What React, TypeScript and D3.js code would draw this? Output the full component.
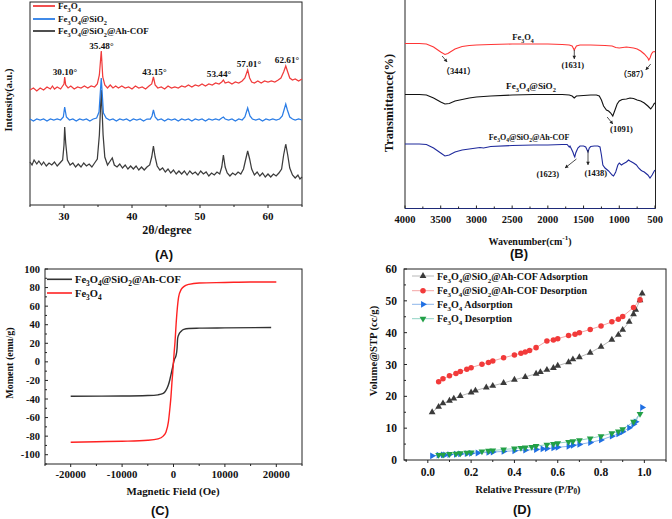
import React from 'react';
import * as d3 from 'd3';

const SERIF = '"Liberation Serif", "Times New Roman", "Noto Sans CJK SC", serif';
const SANS = '"Liberation Sans", Arial, sans-serif';

// ---------- Panel A: XRD (2θ, relative intensity) ----------
const xrdFe3O4: [number, number][] = [[25,115],[25.5,117],[26,114],[26.5,117],[27,115],[27.5,118],[28,116],[28.3,119],[28.6,116],[29,118],[29.5,116],[29.8,119],[30.0,121],[30.1,128],[30.25,120],[30.6,117],[31,119],[31.5,116],[32,118],[32.5,117],[33,119],[33.5,117],[34,119],[34.5,118],[34.9,121],[35.2,130],[35.48,154],[35.7,128],[36,120],[36.4,117],[36.8,120],[37.2,117],[37.6,119],[38,117],[38.5,119],[39,117],[39.5,118],[40,116],[40.5,119],[41,117],[41.5,118],[42,116],[42.5,119],[42.9,121],[43.15,128],[43.4,120],[43.8,117],[44.3,118],[44.8,116],[45.3,119],[45.8,117],[46.3,118],[46.8,117],[47.3,119],[47.8,118],[48.3,120],[48.8,118],[49.3,120],[49.8,119],[50.3,121],[50.8,119],[51.3,121],[51.8,120],[52.3,122],[52.8,121],[53.2,123],[53.44,125],[53.7,122],[54.2,123],[54.7,121],[55.2,123],[55.7,122],[56.2,124],[56.6,127],[57.01,135],[57.3,127],[57.6,123],[58,122],[58.5,124],[59,122],[59.5,124],[60,123],[60.5,124],[61,123],[61.5,125],[61.9,127],[62.3,133],[62.61,139],[62.9,133],[63.2,127],[63.6,125],[64,126],[64.5,124],[65,126]];
const xrdSiO2: [number, number][] = [[25,86],[25.5,84],[26,86],[26.5,85],[27,86],[27.5,84],[28,86],[28.5,85],[29,86],[29.5,85],[29.9,88],[30.1,98],[30.35,88],[30.8,85],[31.3,86],[31.8,84],[32.3,86],[32.8,85],[33.3,86],[33.8,84],[34.3,86],[34.8,87],[35.15,93],[35.48,127],[35.8,92],[36.2,87],[36.7,85],[37.2,86],[37.7,84],[38.2,86],[38.7,85],[39.2,86],[39.7,84],[40.2,86],[40.7,85],[41.2,86],[41.7,84],[42.2,86],[42.7,86],[42.95,89],[43.15,95],[43.4,88],[43.8,85],[44.3,86],[44.8,84],[45.3,86],[45.8,85],[46.3,86],[46.8,84],[47.3,86],[47.8,85],[48.3,86],[48.8,84],[49.3,86],[49.8,85],[50.3,86],[50.8,84],[51.3,86],[51.8,85],[52.3,86],[52.8,85],[53.2,87],[53.44,88],[53.7,86],[54.2,85],[54.7,86],[55.2,84],[55.7,86],[56.2,85],[56.6,88],[57.01,97],[57.35,89],[57.7,86],[58.2,85],[58.7,86],[59.2,84],[59.7,86],[60.2,85],[60.7,86],[61.2,85],[61.7,86],[62.1,89],[62.4,96],[62.61,101],[62.85,95],[63.2,88],[63.6,86],[64,85],[64.5,86],[65,85]];
const xrdCOF: [number, number][] = [[25,43],[25.3,40],[25.6,45],[26,41],[26.3,44],[26.7,40],[27,43],[27.4,39],[27.8,42],[28.2,40],[28.6,43],[29,39],[29.4,42],[29.8,45],[30.0,60],[30.1,78],[30.25,62],[30.5,45],[30.9,40],[31.3,42],[31.7,38],[32.1,41],[32.5,38],[32.9,42],[33.3,39],[33.7,41],[34.1,38],[34.5,42],[34.9,46],[35.2,70],[35.48,115],[35.75,70],[36.0,48],[36.4,40],[36.8,44],[37.1,47],[37.4,40],[37.8,38],[38.2,41],[38.6,37],[39,40],[39.4,36],[39.8,39],[40.2,36],[40.6,39],[41,35],[41.4,38],[41.8,35],[42.2,38],[42.6,40],[42.9,48],[43.15,59],[43.4,48],[43.7,39],[44.1,35],[44.5,37],[44.9,33],[45.3,36],[45.7,32],[46.1,35],[46.5,31],[46.9,34],[47.3,31],[47.7,34],[48.1,30],[48.5,34],[48.9,31],[49.3,33],[49.7,30],[50.1,34],[50.5,31],[50.9,33],[51.3,29],[51.7,32],[52.1,30],[52.5,33],[52.9,31],[53.2,38],[53.44,50],[53.7,38],[54,32],[54.4,29],[54.8,32],[55.2,30],[55.6,33],[56,31],[56.4,36],[56.7,45],[57.01,54],[57.3,46],[57.6,36],[58,30],[58.4,33],[58.8,29],[59.2,32],[59.6,28],[60,31],[60.4,28],[60.8,31],[61.2,29],[61.6,32],[62,36],[62.3,50],[62.61,61],[62.9,50],[63.2,37],[63.6,30],[64,27],[64.4,30],[64.7,26],[65,28]];
const xrdTicksMajor = [30, 40, 50, 60];
const xrdTicksMinor = [25, 35, 45, 55, 65];
const xrdPeaks: [string, number, number][] = [["30.10°", 30.1, 133], ["35.48°", 35.48, 159], ["43.15°", 43.15, 133], ["53.44°", 53.44, 131], ["57.01°", 57.01, 141], ["62.61°", 62.61, 145]];
const xrdPeakXLabel = [30.13, 35.5, 43.3, 52.8, 57.2, 62.8];

// ---------- Panel B: FTIR (wavenumber, transmittance a.u.) ----------
const ftirFe3O4: [number, number][] = [[4000,164.5],[3800,164.5],[3700,164],[3600,161],[3500,156],[3441,153.5],[3400,154.5],[3300,159],[3200,161.5],[3100,162.5],[3000,163],[2800,163.5],[2500,164],[2200,164],[2000,164],[1800,163.5],[1700,163],[1660,162],[1631,158],[1600,162],[1550,163],[1400,163],[1200,162.5],[1100,162],[1050,160.5],[1000,160],[950,160.5],[900,161],[800,160],[750,159],[700,157],[650,154],[600,150],[587,148],[570,150],[550,154],[530,156],[510,156.5],[500,156]];
const ftirSiO2: [number, number][] = [[4000,113.5],[3800,113.5],[3700,113],[3600,110],[3500,106],[3441,104],[3380,104.5],[3300,107],[3200,108.5],[3100,110],[3000,111],[2800,112],[2500,113],[2200,113.5],[2000,113.5],[1800,113.5],[1700,113],[1660,112],[1631,110],[1600,112],[1500,112.5],[1400,113],[1320,113],[1280,112],[1250,108],[1220,102],[1180,98],[1150,97],[1120,95],[1091,92],[1060,98],[1030,104],[1000,107],[960,108.5],[900,109],[850,110],[800,109.5],[750,108],[700,107],[650,105],[600,102],[560,99],[530,102],[510,104.5],[500,105]];
const ftirCOF: [number, number][] = [[4000,64],[3800,64],[3700,63.5],[3600,60],[3500,55],[3441,52],[3380,53],[3300,56],[3200,58],[3100,59],[3000,60],[2950,60.5],[2900,60],[2800,61.5],[2500,62.5],[2200,63],[2000,63],[1800,63.5],[1730,63.5],[1700,61],[1690,62],[1670,59],[1650,56],[1630,52],[1623,51],[1610,55],[1580,60],[1550,62],[1500,62],[1470,61],[1438,56],[1420,60],[1400,61.5],[1350,62],[1300,62],[1270,61],[1250,53],[1230,43],[1200,40],[1150,37],[1100,33],[1080,32],[1050,36],[1020,43],[1000,45],[970,43],[950,44],[900,46],[870,48],[850,47],[800,45],[760,43],[730,40],[700,38],[680,37],[650,36],[600,33],[570,30],[540,33],[510,37],[500,38]];
const ftirTicksMajor = [4000, 3500, 3000, 2500, 2000, 1500, 1000, 500];
const ftirTicksMinor = [3750, 3250, 2750, 2250, 1750, 1250, 750];
// [label, label wavenumber, label T, arrow from (wn,T) to (wn,T)]
const ftirNotes: [string, number, number, number, number, number, number][] = [
  ["（3441）", 3250, 137, 3480, 152, 3410, 146],
  ["(1631)", 1650, 143, 1630, 158, 1630, 149],
  ["（587）", 800, 134, 560, 144, 630, 138],
  ["(1091)", 970, 79, 1170, 91, 1090, 84],
  ["(1623)", 2000, 34, 1600, 49, 1760, 40],
  ["(1438)", 1330, 35, 1438, 58, 1438, 43],
];

// ---------- Panel C: VSM ----------
const vsmField = [-20000,-15000,-10000,-5000,-3000,-2000,-1500,-1000,-700,-500,-300,-100,0,100,300,500,700,1000,1500,2000,3000,5000,10000,15000,20000];
const vsmFe3O4 = [-86.5,-86,-85.5,-84.5,-83,-80,-76,-65,-50,-38,-22,-8,0,8,22,40,55,70,78,81,83.5,85,85.5,86,86];
const vsmCOFField = [-20000,-10000,-5000,-3000,-2000,-1500,-1000,-700,-500,-300,-100,0,200,500,700,800,1000,1500,2000,3000,5000,10000,19000];
const vsmCOF = [-37,-36.8,-36.3,-35.5,-34,-31,-25,-19,-14,-9,-4,-1,3,7,15,25,29,33,35,36,36.3,36.6,37];
const vsmXMajor = [-20000, -10000, 0, 10000, 20000];
const vsmXMinor = [-25000, -15000, -5000, 5000, 15000, 25000];
const vsmYMajor = [-100, -80, -60, -40, -20, 0, 20, 40, 60, 80, 100];
const vsmYMinor = [-110, -90, -70, -50, -30, -10, 10, 30, 50, 70, 90];

// ---------- Panel D: N2 isotherms ----------
const cofAdsP = [0.02,0.05,0.07,0.1,0.12,0.15,0.2,0.22,0.27,0.3,0.35,0.4,0.45,0.5,0.52,0.55,0.58,0.6,0.65,0.67,0.7,0.75,0.8,0.85,0.88,0.9,0.93,0.95,0.96,0.98,0.99];
const cofAdsV = [15,16.7,17.8,18.6,19.3,20.1,21.2,21.8,22.8,23.3,24.2,25.2,26.1,27.1,27.6,28.3,28.9,29.6,30.7,31.6,32.3,33.7,35.6,37.8,39.3,40.9,43.4,45.8,47.2,50.2,52.3];
const cofDesP = [0.05,0.07,0.1,0.13,0.15,0.18,0.2,0.25,0.28,0.3,0.35,0.4,0.43,0.45,0.47,0.5,0.55,0.58,0.6,0.65,0.68,0.7,0.75,0.8,0.85,0.88,0.9,0.95,0.98];
const cofDesV = [24.6,25.5,26.5,27.2,27.8,28.5,29,30.1,30.6,31.1,32.1,33,33.5,33.9,34.4,35.3,37.4,37.7,38.1,39.1,39.5,40,41,42.1,43.4,44.2,45.1,47.9,50.3];
const feAdsP = [0.02,0.05,0.07,0.08,0.1,0.13,0.15,0.18,0.2,0.23,0.28,0.3,0.35,0.4,0.45,0.5,0.53,0.55,0.58,0.6,0.65,0.67,0.7,0.75,0.8,0.85,0.88,0.9,0.93,0.95,0.96,0.99];
const feAdsV = [1.3,1.5,1.6,1.6,1.7,1.8,1.9,2.0,2.1,2.2,2.4,2.5,2.7,2.9,3.1,3.3,3.5,3.6,3.8,4.0,4.3,4.6,4.9,5.5,6.3,7.5,8.2,8.9,10.1,11.2,12,16.5];
const feDesP = [0.05,0.07,0.1,0.13,0.15,0.18,0.2,0.25,0.28,0.3,0.35,0.4,0.43,0.45,0.48,0.5,0.55,0.58,0.6,0.65,0.67,0.7,0.75,0.8,0.85,0.88,0.9,0.95,0.98];
const feDesV = [1.6,1.7,1.9,2.0,2.1,2.3,2.4,2.7,2.9,3.0,3.3,3.6,3.8,3.9,4.1,4.4,4.8,5.0,5.3,5.7,5.9,6.2,6.8,7.5,8.4,9.0,9.7,12.0,14.5];
const isoXMajor = [0, 0.2, 0.4, 0.6, 0.8, 1.0];
const isoXMinor = [-0.1, 0.1, 0.3, 0.5, 0.7, 0.9, 1.1];
const isoYMajor = [0, 10, 20, 30, 40, 50, 60];
const isoYMinor = [5, 15, 25, 35, 45, 55];
const isoSeries = ["Fe3O4@SiO2@Ah-COF Adsorption", "Fe3O4@SiO2@Ah-COF Desorption", "Fe3O4 Adsorption", "Fe3O4 Desorption"];

// ---------- helpers ----------
function Chem({ text, fs }: { text: string; fs: number }) {
  const parts = text.split(/(\d+)/).filter((p) => p.length > 0);
  let shifted = false;
  return (
    <>
      {parts.map((p, i) => {
        const isD = /^\d+$/.test(p);
        let dy: number | undefined;
        if (isD && !shifted) { dy = fs * 0.3; shifted = true; }
        else if (!isD && shifted) { dy = -fs * 0.3; shifted = false; }
        return (
          <tspan key={i} dy={dy} fontSize={isD ? fs * 0.7 : fs}>{p}</tspan>
        );
      })}
    </>
  );
}

function Arrow({ x1, y1, x2, y2, color = '#222' }: any) {
  const a = Math.atan2(y2 - y1, x2 - x1);
  const L = 3.2, W = 1.8;
  const p1 = [x2 - L * Math.cos(a) + W * Math.sin(a), y2 - L * Math.sin(a) - W * Math.cos(a)];
  const p2 = [x2 - L * Math.cos(a) - W * Math.sin(a), y2 - L * Math.sin(a) + W * Math.cos(a)];
  return (
    <g>
      <line x1={x1} y1={y1} x2={x2} y2={y2} stroke={color} strokeWidth={0.8} />
      <path d={`M${x2},${y2}L${p1[0]},${p1[1]}L${p2[0]},${p2[1]}Z`} fill={color} />
    </g>
  );
}

export default function App() {
  const xA = d3.scaleLinear().domain([25, 65]).range([30, 302]);
  const yA = d3.scaleLinear().domain([0, 203]).range([205, 2]);
  const lineA = d3.line<[number, number]>().x((d) => xA(d[0])).y((d) => yA(d[1]));

  const xB = d3.scaleLinear().domain([4000, 500]).range([405, 655]);
  const yB = d3.scaleLinear().domain([0, 208]).range([208, 0]);
  const lineB = d3.line<[number, number]>().x((d) => xB(d[0])).y((d) => yB(d[1]));

  const xC = d3.scaleLinear().domain([-25000, 25000]).range([45, 302]);
  const yC = d3.scaleLinear().domain([-110, 100]).range([464, 269]);
  const lineC = d3.line<[number, number]>().x((d) => xC(d[0])).y((d) => yC(d[1])).curve(d3.curveMonotoneX);

  const xD = d3.scaleLinear().domain([-0.11, 1.1]).range([404, 666]);
  const yD = d3.scaleLinear().domain([0, 60]).range([460, 269]);
  const lineD = d3.line<[number, number]>().x((d) => xD(d[0])).y((d) => yD(d[1]));

  const zip = (a: number[], b: number[]) => a.map((v, i) => [v, b[i]] as [number, number]);

  const tri = d3.symbol().type(d3.symbolTriangle).size(20)()!;
  const circ = d3.symbol().type(d3.symbolCircle).size(24)()!;

  const isoDefs = [
    { p: cofAdsP, v: cofAdsV, mk: '#3a3a3a', ln: '#b8b8b8', shape: tri, rot: 0 },
    { p: cofDesP, v: cofDesV, mk: '#f23a3a', ln: '#f4a6a6', shape: circ, rot: 0 },
    { p: feAdsP, v: feAdsV, mk: '#1f6fe3', ln: '#8db6ea', shape: tri, rot: 90 },
    { p: feDesP, v: feDesV, mk: '#22a046', ln: '#8fd3c4', shape: tri, rot: 180 },
  ];

  const bold = { fontFamily: SERIF, fontWeight: 700 as const, fill: '#111' };

  return (
    <svg width={672} height={519} style={{ position: 'absolute', left: 0, top: 0, background: '#fff' }}>
      <rect x={0} y={0} width={672} height={519} fill="#fff" />

      {/* ================= Panel A ================= */}
      <g>
        <rect x={30} y={2} width={272} height={203} fill="none" stroke="#222" strokeWidth={1} />
        <path d={lineA(xrdCOF)!} fill="none" stroke="#3c3c3c" strokeWidth={1.25} />
        <path d={lineA(xrdSiO2)!} fill="none" stroke="#2b7de6" strokeWidth={1.25} />
        <path d={lineA(xrdFe3O4)!} fill="none" stroke="#f03c3c" strokeWidth={1.25} />
        {xrdTicksMajor.map((t) => (
          <g key={t}>
            <line x1={xA(t)} x2={xA(t)} y1={205} y2={208} stroke="#222" />
            <text x={xA(t)} y={216} textAnchor="middle" dominantBaseline="central" fontSize={11} {...bold}>{t}</text>
          </g>
        ))}
        {xrdTicksMinor.map((t) => (
          <line key={t} x1={xA(t)} x2={xA(t)} y1={205} y2={207} stroke="#222" />
        ))}
        {xrdPeaks.map(([lab, x, y], i) => (
          <text key={lab} x={xA(xrdPeakXLabel[i])} y={yA(y)} textAnchor="middle" dominantBaseline="central" fontSize={9.2} {...bold}>{lab}</text>
        ))}
        <text x={167} y={230} textAnchor="middle" dominantBaseline="central" fontSize={12} {...bold}>2θ/degree</text>
        <text transform="translate(8,100) rotate(-90)" textAnchor="middle" dominantBaseline="central" fontSize={10.5} {...bold}>Intensity(a.u.)</text>
        {[['Fe3O4', '#f03c3c', 6], ['Fe3O4@SiO2', '#2b7de6', 19], ['Fe3O4@SiO2@Ah-COF', '#3c3c3c', 31]].map(([t, c, y]) => (
          <g key={t as string}>
            <line x1={33} x2={55} y1={y as number} y2={y as number} stroke={c as string} strokeWidth={1.8} />
            <text x={58} y={(y as number) + 3} fontSize={9} {...bold}><Chem text={t as string} fs={9} /></text>
          </g>
        ))}
        <text x={164} y={254} textAnchor="middle" dominantBaseline="central" fontSize={13} fontFamily={SANS} fontWeight={700} fill="#111">(A)</text>
      </g>

      {/* ================= Panel B ================= */}
      <g>
        <line x1={405} x2={405} y1={0} y2={208.5} stroke="#222" strokeWidth={1} />
        <line x1={655.5} x2={655.5} y1={0} y2={208.5} stroke="#222" strokeWidth={1} />
        <line x1={405} x2={655.5} y1={208.5} y2={208.5} stroke="#1e2a78" strokeWidth={1} />
        <path d={lineB(ftirFe3O4)!} fill="none" stroke="#ff3535" strokeWidth={1.1} />
        <path d={lineB(ftirSiO2)!} fill="none" stroke="#111" strokeWidth={1.1} />
        <path d={lineB(ftirCOF)!} fill="none" stroke="#1f2a9c" strokeWidth={1.1} />
        {ftirTicksMajor.map((t) => (
          <g key={t}>
            <line x1={xB(t)} x2={xB(t)} y1={208.5} y2={205.5} stroke="#222" />
            <text x={xB(t)} y={219} textAnchor="middle" dominantBaseline="central" fontSize={10.5} {...bold}>{t}</text>
          </g>
        ))}
        {ftirTicksMinor.map((t) => (
          <line key={t} x1={xB(t)} x2={xB(t)} y1={208.5} y2={206.5} stroke="#222" />
        ))}
        <text x={523} y={40} textAnchor="middle" fontSize={8.5} {...bold}><Chem text="Fe3O4" fs={8.5} /></text>
        <text x={531} y={89} textAnchor="middle" fontSize={9.2} {...bold}><Chem text="Fe3O4@SiO2" fs={9.2} /></text>
        <text x={529} y={140} textAnchor="middle" fontSize={8} {...bold}><Chem text="Fe3O4@SiO2@Ah-COF" fs={8} /></text>
        {ftirNotes.map(([lab, lx, ly, ax1, ay1, ax2, ay2]) => (
          <g key={lab}>
            <Arrow x1={xB(ax1)} y1={yB(ay1)} x2={xB(ax2)} y2={yB(ay2)} />
            <text x={xB(lx)} y={yB(ly)} textAnchor="middle" dominantBaseline="central" fontSize={8.5} {...bold}>{lab}</text>
          </g>
        ))}
        <text x={530} y={241} textAnchor="middle" dominantBaseline="central" fontSize={10} {...bold}>
          Wavenumber(cm<tspan dy={-3} fontSize={7}>-1</tspan><tspan dy={3}>)</tspan>
        </text>
        <text transform="translate(389,103) rotate(-90)" textAnchor="middle" dominantBaseline="central" fontSize={12.5} {...bold}>Transmittance(%)</text>
        <text x={519} y={253} textAnchor="middle" dominantBaseline="central" fontSize={13} fontFamily={SANS} fontWeight={700} fill="#111">(B)</text>
      </g>

      {/* ================= Panel C ================= */}
      <g>
        <rect x={45} y={269} width={257} height={195} fill="none" stroke="#222" strokeWidth={1} />
        <path d={lineC(zip(vsmCOFField, vsmCOF))!} fill="none" stroke="#333" strokeWidth={1.4} />
        <path d={lineC(zip(vsmField, vsmFe3O4))!} fill="none" stroke="#f22" strokeWidth={1.4} />
        {vsmYMajor.map((t) => (
          <g key={t}>
            <line x1={45} x2={48} y1={yC(t)} y2={yC(t)} stroke="#222" />
            <text x={40} y={yC(t)} textAnchor="end" dominantBaseline="central" fontSize={10.5} {...bold}>{t}</text>
          </g>
        ))}
        {vsmYMinor.map((t) => (
          <line key={t} x1={45} x2={47} y1={yC(t)} y2={yC(t)} stroke="#222" />
        ))}
        {vsmXMajor.map((t) => (
          <g key={t}>
            <line x1={xC(t)} x2={xC(t)} y1={464} y2={467} stroke="#222" />
            <text x={xC(t)} y={474} textAnchor="middle" dominantBaseline="central" fontSize={10.8} {...bold}>{t}</text>
          </g>
        ))}
        {vsmXMinor.map((t) => (
          <line key={t} x1={xC(t)} x2={xC(t)} y1={464} y2={466} stroke="#222" />
        ))}
        <line x1={47} x2={72} y1={279.3} y2={279.3} stroke="#333" strokeWidth={1.6} />
        <text x={75} y={283} fontSize={10.5} {...bold}><Chem text="Fe3O4@SiO2@Ah-COF" fs={10.5} /></text>
        <line x1={47} x2={72} y1={293} y2={293} stroke="#f22" strokeWidth={1.6} />
        <text x={75} y={296.7} fontSize={10.5} {...bold}><Chem text="Fe3O4" fs={10.5} /></text>
        <text x={173} y={491} textAnchor="middle" dominantBaseline="central" fontSize={10.9} {...bold}>Magnetic Field (Oe)</text>
        <text transform="translate(9,363) rotate(-90)" textAnchor="middle" dominantBaseline="central" fontSize={10} {...bold}>Moment (emu/g)</text>
        <text x={160} y={510} textAnchor="middle" dominantBaseline="central" fontSize={13} fontFamily={SANS} fontWeight={700} fill="#111">(C)</text>
      </g>

      {/* ================= Panel D ================= */}
      <g>
        <rect x={404} y={269} width={262} height={191} fill="none" stroke="#222" strokeWidth={1} />
        {isoDefs.map((s, i) => (
          <path key={'l' + i} d={lineD(zip(s.p, s.v))!} fill="none" stroke={s.ln} strokeWidth={1} />
        ))}
        {isoDefs.map((s, i) => (
          <g key={'m' + i}>
            {s.p.map((p, j) => (
              <path key={j} d={s.shape} transform={`translate(${xD(p)},${yD(s.v[j])}) rotate(${s.rot})`} fill={s.mk} />
            ))}
          </g>
        ))}
        {isoYMajor.map((t) => (
          <g key={t}>
            <line x1={404} x2={407} y1={yD(t)} y2={yD(t)} stroke="#222" />
            <text x={397} y={yD(t)} textAnchor="end" dominantBaseline="central" fontSize={11.5} {...bold}>{t}</text>
          </g>
        ))}
        {isoYMinor.map((t) => (
          <line key={t} x1={404} x2={406} y1={yD(t)} y2={yD(t)} stroke="#222" />
        ))}
        {isoXMajor.map((t) => (
          <g key={t}>
            <line x1={xD(t)} x2={xD(t)} y1={460} y2={463} stroke="#222" />
            <text x={xD(t)} y={471.7} textAnchor="middle" dominantBaseline="central" fontSize={11.5} {...bold}>{t.toFixed(1)}</text>
          </g>
        ))}
        {isoXMinor.map((t) => (
          <line key={t} x1={xD(t)} x2={xD(t)} y1={460} y2={462} stroke="#222" />
        ))}
        {isoDefs.map((s, i) => {
          const y = [276, 290.7, 304.3, 318.7][i];
          return (
            <g key={'lg' + i}>
              <line x1={412} x2={434} y1={y} y2={y} stroke={s.ln} strokeWidth={1} />
              <path d={s.shape} transform={`translate(423,${y}) rotate(${s.rot})`} fill={s.mk} />
              <text x={437} y={y + 3.5} fontSize={10} {...bold}><Chem text={isoSeries[i]} fs={10} /></text>
            </g>
          );
        })}
        <text x={528} y={489} textAnchor="middle" dominantBaseline="central" fontSize={10.3} {...bold}><Chem text="Relative Pressure (P/P0)" fs={10.3} /></text>
        <text transform="translate(373,351) rotate(-90)" textAnchor="middle" dominantBaseline="central" fontSize={10.6} {...bold}>Volume@STP (cc/g)</text>
        <text x={522} y={509} textAnchor="middle" dominantBaseline="central" fontSize={13} fontFamily={SANS} fontWeight={700} fill="#111">(D)</text>
      </g>
    </svg>
  );
}
